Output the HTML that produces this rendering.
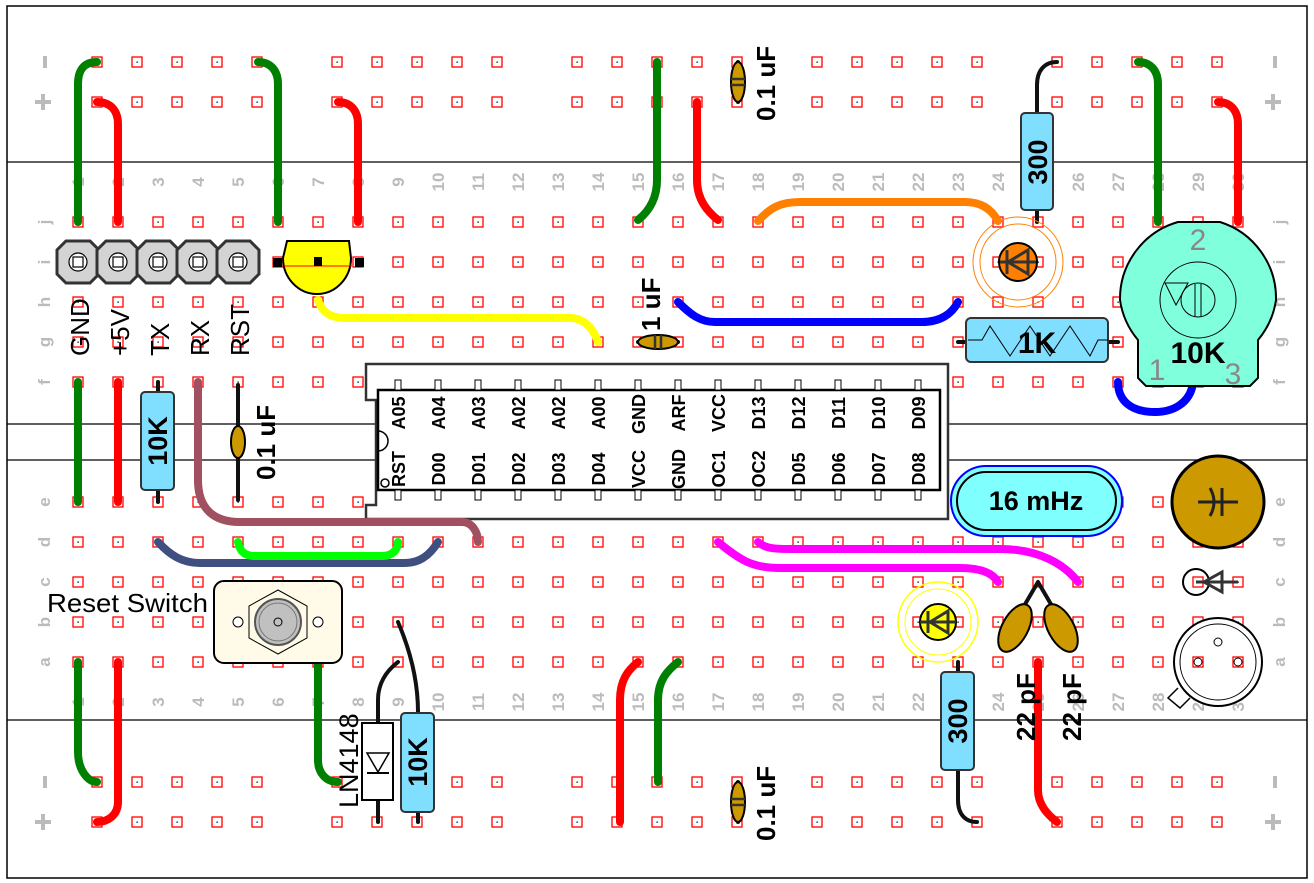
<!DOCTYPE html>
<html><head><meta charset="utf-8"><style>
html,body{margin:0;padding:0;background:#fff;}
svg{display:block;font-family:"Liberation Sans",sans-serif;}
.n{fill:#bbb;font-size:17px;font-weight:bold;}
.cl{font-weight:bold;font-size:18px;fill:#000;}
</style></head><body>
<svg width="1314" height="883" viewBox="0 0 1314 883">
<defs>
<pattern id="th" x="58" y="202" width="40" height="40" patternUnits="userSpaceOnUse">
<rect x="15" y="15" width="10" height="10" fill="#fff" stroke="#f00" stroke-width="1.3"/><rect x="19.5" y="19.5" width="1.3" height="1.3" fill="#000"/></pattern>
<pattern id="rh" x="77" y="42" width="240" height="40" patternUnits="userSpaceOnUse">
<g fill="#fff" stroke="#f00" stroke-width="1.3"><rect x="15" y="15" width="10" height="10"/><rect x="55" y="15" width="10" height="10"/><rect x="95" y="15" width="10" height="10"/><rect x="135" y="15" width="10" height="10"/><rect x="175" y="15" width="10" height="10"/></g>
<g fill="#000"><rect x="19.5" y="19.5" width="1.3" height="1.3"/><rect x="59.5" y="19.5" width="1.3" height="1.3"/><rect x="99.5" y="19.5" width="1.3" height="1.3"/><rect x="139.5" y="19.5" width="1.3" height="1.3"/><rect x="179.5" y="19.5" width="1.3" height="1.3"/></g></pattern>
<pattern id="rh2" x="77" y="762" width="240" height="40" patternUnits="userSpaceOnUse">
<g fill="#fff" stroke="#f00" stroke-width="1.3"><rect x="15" y="15" width="10" height="10"/><rect x="55" y="15" width="10" height="10"/><rect x="95" y="15" width="10" height="10"/><rect x="135" y="15" width="10" height="10"/><rect x="175" y="15" width="10" height="10"/></g>
<g fill="#000"><rect x="19.5" y="19.5" width="1.3" height="1.3"/><rect x="59.5" y="19.5" width="1.3" height="1.3"/><rect x="99.5" y="19.5" width="1.3" height="1.3"/><rect x="139.5" y="19.5" width="1.3" height="1.3"/><rect x="179.5" y="19.5" width="1.3" height="1.3"/></g></pattern>
</defs>
<rect x="7" y="6" width="1300" height="872" fill="#fff" stroke="#000" stroke-width="1.5"/>
<g stroke="#000" stroke-width="1.2"><line x1="7" y1="162" x2="1307" y2="162"/><line x1="7" y1="424" x2="1307" y2="424"/><line x1="7" y1="460" x2="1307" y2="460"/><line x1="7" y1="720" x2="1307" y2="720"/></g>
<rect x="58" y="202" width="1200" height="200" fill="url(#th)"/>
<rect x="58" y="482" width="1200" height="200" fill="url(#th)"/>
<rect x="77" y="42" width="1160" height="80" fill="url(#rh)"/>
<rect x="77" y="762" width="1160" height="80" fill="url(#rh2)"/>
<g fill="#bbb"><rect x="43" y="56" width="4" height="12"/><rect x="1273" y="56" width="4" height="12"/><rect x="43" y="776" width="4" height="12"/><rect x="1273" y="776" width="4" height="12"/>
<rect x="35" y="100" width="16" height="4"/><rect x="41" y="94" width="4" height="16"/><rect x="1265" y="100" width="16" height="4"/><rect x="1271" y="94" width="4" height="16"/>
<rect x="35" y="820" width="16" height="4"/><rect x="41" y="814" width="4" height="16"/><rect x="1265" y="820" width="16" height="4"/><rect x="1271" y="814" width="4" height="16"/></g>
<g class="n" text-anchor="middle">
<text transform="translate(50,222) rotate(-90)">j</text><text transform="translate(50,262) rotate(-90)">i</text><text transform="translate(50,302) rotate(-90)">h</text><text transform="translate(50,342) rotate(-90)">g</text><text transform="translate(50,382) rotate(-90)">f</text>
<text transform="translate(50,502) rotate(-90)">e</text><text transform="translate(50,542) rotate(-90)">d</text><text transform="translate(50,582) rotate(-90)">c</text><text transform="translate(50,622) rotate(-90)">b</text><text transform="translate(50,662) rotate(-90)">a</text>
<text transform="translate(1285,222) rotate(-90)">j</text><text transform="translate(1285,262) rotate(-90)">i</text><text transform="translate(1285,302) rotate(-90)">h</text><text transform="translate(1285,342) rotate(-90)">g</text><text transform="translate(1285,382) rotate(-90)">f</text>
<text transform="translate(1285,502) rotate(-90)">e</text><text transform="translate(1285,542) rotate(-90)">d</text><text transform="translate(1285,582) rotate(-90)">c</text><text transform="translate(1285,622) rotate(-90)">b</text><text transform="translate(1285,662) rotate(-90)">a</text>
</g>
<g class="n" text-anchor="middle">
<text transform="translate(84,182) rotate(-90)">1</text><text transform="translate(124,182) rotate(-90)">2</text><text transform="translate(164,182) rotate(-90)">3</text><text transform="translate(204,182) rotate(-90)">4</text><text transform="translate(244,182) rotate(-90)">5</text><text transform="translate(284,182) rotate(-90)">6</text><text transform="translate(324,182) rotate(-90)">7</text><text transform="translate(364,182) rotate(-90)">8</text><text transform="translate(404,182) rotate(-90)">9</text><text transform="translate(444,182) rotate(-90)">10</text><text transform="translate(484,182) rotate(-90)">11</text><text transform="translate(524,182) rotate(-90)">12</text><text transform="translate(564,182) rotate(-90)">13</text><text transform="translate(604,182) rotate(-90)">14</text><text transform="translate(644,182) rotate(-90)">15</text><text transform="translate(684,182) rotate(-90)">16</text><text transform="translate(724,182) rotate(-90)">17</text><text transform="translate(764,182) rotate(-90)">18</text><text transform="translate(804,182) rotate(-90)">19</text><text transform="translate(844,182) rotate(-90)">20</text><text transform="translate(884,182) rotate(-90)">21</text><text transform="translate(924,182) rotate(-90)">22</text><text transform="translate(964,182) rotate(-90)">23</text><text transform="translate(1004,182) rotate(-90)">24</text><text transform="translate(1044,182) rotate(-90)">25</text><text transform="translate(1084,182) rotate(-90)">26</text><text transform="translate(1124,182) rotate(-90)">27</text><text transform="translate(1164,182) rotate(-90)">28</text><text transform="translate(1204,182) rotate(-90)">29</text><text transform="translate(1244,182) rotate(-90)">30</text>
<text transform="translate(84,702) rotate(-90)">1</text><text transform="translate(124,702) rotate(-90)">2</text><text transform="translate(164,702) rotate(-90)">3</text><text transform="translate(204,702) rotate(-90)">4</text><text transform="translate(244,702) rotate(-90)">5</text><text transform="translate(284,702) rotate(-90)">6</text><text transform="translate(324,702) rotate(-90)">7</text><text transform="translate(364,702) rotate(-90)">8</text><text transform="translate(404,702) rotate(-90)">9</text><text transform="translate(444,702) rotate(-90)">10</text><text transform="translate(484,702) rotate(-90)">11</text><text transform="translate(524,702) rotate(-90)">12</text><text transform="translate(564,702) rotate(-90)">13</text><text transform="translate(604,702) rotate(-90)">14</text><text transform="translate(644,702) rotate(-90)">15</text><text transform="translate(684,702) rotate(-90)">16</text><text transform="translate(724,702) rotate(-90)">17</text><text transform="translate(764,702) rotate(-90)">18</text><text transform="translate(804,702) rotate(-90)">19</text><text transform="translate(844,702) rotate(-90)">20</text><text transform="translate(884,702) rotate(-90)">21</text><text transform="translate(924,702) rotate(-90)">22</text><text transform="translate(964,702) rotate(-90)">23</text><text transform="translate(1004,702) rotate(-90)">24</text><text transform="translate(1044,702) rotate(-90)">25</text><text transform="translate(1084,702) rotate(-90)">26</text><text transform="translate(1124,702) rotate(-90)">27</text><text transform="translate(1164,702) rotate(-90)">28</text><text transform="translate(1204,702) rotate(-90)">29</text><text transform="translate(1244,702) rotate(-90)">30</text>
</g>

<!-- CHIP -->
<path d="M366,364 H948 V519 H366 V505 H376 V400 H366 Z" fill="#fff" stroke="#333" stroke-width="2.5"/>
<rect x="378" y="390" width="562" height="100" fill="#fff" stroke="#000" stroke-width="2.5"/>
<path d="M378,431 A10,10 0 0 1 378,451" fill="none" stroke="#000" stroke-width="1.5"/>
<circle cx="385" cy="483" r="4" fill="none" stroke="#000" stroke-width="1.5"/>
<g fill="#fff" stroke="#000" stroke-width="1">
<rect x="395" y="380" width="6" height="10"/><rect x="435" y="380" width="6" height="10"/><rect x="475" y="380" width="6" height="10"/><rect x="515" y="380" width="6" height="10"/><rect x="555" y="380" width="6" height="10"/><rect x="595" y="380" width="6" height="10"/><rect x="635" y="380" width="6" height="10"/><rect x="675" y="380" width="6" height="10"/><rect x="715" y="380" width="6" height="10"/><rect x="755" y="380" width="6" height="10"/><rect x="795" y="380" width="6" height="10"/><rect x="835" y="380" width="6" height="10"/><rect x="875" y="380" width="6" height="10"/><rect x="915" y="380" width="6" height="10"/>
<rect x="395" y="490" width="6" height="10"/><rect x="435" y="490" width="6" height="10"/><rect x="475" y="490" width="6" height="10"/><rect x="515" y="490" width="6" height="10"/><rect x="555" y="490" width="6" height="10"/><rect x="595" y="490" width="6" height="10"/><rect x="635" y="490" width="6" height="10"/><rect x="675" y="490" width="6" height="10"/><rect x="715" y="490" width="6" height="10"/><rect x="755" y="490" width="6" height="10"/><rect x="795" y="490" width="6" height="10"/><rect x="835" y="490" width="6" height="10"/><rect x="875" y="490" width="6" height="10"/><rect x="915" y="490" width="6" height="10"/>
</g>
<g class="cl" text-anchor="middle">
<text transform="translate(405,413) rotate(-90)">A05</text><text transform="translate(445,413) rotate(-90)">A04</text><text transform="translate(485,413) rotate(-90)">A03</text><text transform="translate(525,413) rotate(-90)">A02</text><text transform="translate(565,413) rotate(-90)">A02</text><text transform="translate(605,413) rotate(-90)">A00</text><text transform="translate(645,414) rotate(-90)">GND</text><text transform="translate(685,413) rotate(-90)">ARF</text><text transform="translate(725,413) rotate(-90)">VCC</text><text transform="translate(765,413) rotate(-90)">D13</text><text transform="translate(805,413) rotate(-90)">D12</text><text transform="translate(845,413) rotate(-90)">D11</text><text transform="translate(885,413) rotate(-90)">D10</text><text transform="translate(925,413) rotate(-90)">D09</text>
<text transform="translate(405,469) rotate(-90)">RST</text><text transform="translate(445,469) rotate(-90)">D00</text><text transform="translate(485,469) rotate(-90)">D01</text><text transform="translate(525,469) rotate(-90)">D02</text><text transform="translate(565,469) rotate(-90)">D03</text><text transform="translate(605,469) rotate(-90)">D04</text><text transform="translate(645,469) rotate(-90)">VCC</text><text transform="translate(685,469) rotate(-90)">GND</text><text transform="translate(725,469) rotate(-90)">OC1</text><text transform="translate(765,469) rotate(-90)">OC2</text><text transform="translate(805,469) rotate(-90)">D05</text><text transform="translate(845,469) rotate(-90)">D06</text><text transform="translate(885,469) rotate(-90)">D07</text><text transform="translate(925,469) rotate(-90)">D08</text>
</g>

<!-- WIRES -->
<g fill="none" stroke-width="8" stroke-linecap="round">
<path d="M97,62 C84,62 78,70 78,84 V222" stroke="#008000"/>
<path d="M97,102 C110,102 118,110 118,124 V222" stroke="#f00"/>
<path d="M258,62 C270,62 278,70 278,84 V222" stroke="#008000"/>
<path d="M338,102 C350,102 358,110 358,124 V222" stroke="#f00"/>
<path d="M657,62 V180 C657,200 648,212 638,220" stroke="#008000"/>
<path d="M697,102 V180 C697,200 708,212 718,220" stroke="#f00"/>
<path d="M1138,62 C1150,62 1158,70 1158,84 V222" stroke="#008000"/>
<path d="M1218,102 C1230,102 1238,110 1238,124 V222" stroke="#f00"/>
<path d="M758,221 C770,208 780,202 800,202 H965 C982,202 992,210 998,221" stroke="#ff8000"/>
<path d="M318,300 C322,312 330,318 345,318 H570 C585,318 594,330 598,342" stroke="#ff0"/>
<path d="M678,302 C690,314 700,322 715,322 H922 C940,322 952,314 958,302" stroke="#00f"/>
<path d="M1118,382 C1118,400 1130,412 1155,412 C1175,412 1188,402 1192,388" stroke="#00f"/>
<path d="M78,382 V502" stroke="#008000"/>
<path d="M118,382 V502" stroke="#f00"/>
<path d="M198,382 V480 C198,510 215,522 240,522 H462 C472,522 478,532 478,542" stroke="#a05060"/>
<path d="M158,542 C170,555 182,563 200,563 H405 C420,563 430,555 438,542" stroke="#3f4f80"/>
<path d="M238,542 C240,552 245,556 255,556 H382 C392,556 398,550 398,542" stroke="#0f0"/>
<path d="M78,662 V752 C78,770 88,782 97,782" stroke="#008000"/>
<path d="M118,662 V802 C118,815 108,822 97,822" stroke="#f00"/>
<path d="M318,663 V760 C318,773 326,782 338,782" stroke="#008000"/>
<path d="M638,662 C628,670 620,680 620,700 V822" stroke="#f00"/>
<path d="M678,662 C668,670 658,680 658,700 V782" stroke="#008000"/>
<path d="M1038,662 V790 C1038,805 1048,815 1057,822" stroke="#f00"/>
<path d="M718,542 C740,560 752,568 780,568 H960 C985,568 994,575 998,582" stroke="#f0f"/>
<path d="M758,542 C765,548 772,549 790,549 H1000 C1040,549 1065,565 1078,582" stroke="#f0f"/>
</g>
<g fill="none" stroke="#111" stroke-width="4" stroke-linecap="round">
<path d="M1057,62 C1045,62 1037,70 1037,85 V222"/>
<line x1="158" y1="382" x2="158" y2="502"/>
<line x1="238" y1="385" x2="238" y2="500"/>
<path d="M398,622 C410,650 418,680 418,712 V822"/>
<path d="M398,662 C385,672 378,685 378,700 V822"/>
<path d="M958,662 V800 C958,815 966,822 977,822"/>
<line x1="958" y1="342" x2="1118" y2="342"/>
<path d="M1038,582 L1010,630 M1038,582 L1066,630"/>
<line x1="738" y1="62" x2="738" y2="102"/><line x1="738" y1="782" x2="738" y2="822"/><line x1="638" y1="342" x2="678" y2="342"/>
</g>

<!-- header pins -->
<g stroke="#333" stroke-width="3" fill="#d3d3d3">
<polygon points="66,241 90,241 99,250 99,274 90,283 66,283 57,274 57,250"/>
<polygon points="106,241 130,241 139,250 139,274 130,283 106,283 97,274 97,250"/>
<polygon points="146,241 170,241 179,250 179,274 170,283 146,283 137,274 137,250"/>
<polygon points="186,241 210,241 219,250 219,274 210,283 186,283 177,274 177,250"/>
<polygon points="226,241 250,241 259,250 259,274 250,283 226,283 217,274 217,250"/>
</g>
<g fill="#fff" stroke="#000" stroke-width="1.2">
<circle cx="78" cy="262" r="9"/><circle cx="118" cy="262" r="9"/><circle cx="158" cy="262" r="9"/><circle cx="198" cy="262" r="9"/><circle cx="238" cy="262" r="9"/>
<rect x="73" y="257" width="10" height="10"/><rect x="113" y="257" width="10" height="10"/><rect x="153" y="257" width="10" height="10"/><rect x="193" y="257" width="10" height="10"/><rect x="233" y="257" width="10" height="10"/>
</g>
<g font-size="26" text-anchor="start">
<text transform="translate(89,356) rotate(-90)">GND</text><text transform="translate(129,356) rotate(-90)">+5V</text><text transform="translate(169,356) rotate(-90)">TX</text><text transform="translate(209,356) rotate(-90)">RX</text><text transform="translate(249,356) rotate(-90)">RST</text>
</g>

<!-- buzzer -->
<path d="M287,241 H349 L351,258 A34,36 0 1 1 283,258 Z" fill="#ff0" stroke="#000" stroke-width="2"/>
<line x1="284" y1="266" x2="352" y2="266" stroke="#f00" stroke-width="1"/>
<g fill="#000"><rect x="273" y="258" width="9" height="9"/><rect x="314" y="257" width="8" height="9"/><rect x="355" y="258" width="9" height="9"/></g>

<!-- resistors -->
<g fill="#80dfff" stroke="#333" stroke-width="2">
<rect x="1021" y="113" width="32" height="97" rx="4"/>
<rect x="141" y="392" width="33" height="98" rx="4"/>
<rect x="401" y="713" width="33" height="99" rx="4"/>
<rect x="941" y="672" width="33" height="98" rx="4"/>
<rect x="966" y="318" width="142" height="44" rx="5"/>
</g>
<polyline points="968,340 982,340 990,326 1010,356 1030,326 1050,356 1070,326 1090,356 1098,340 1108,340" fill="none" stroke="#000" stroke-width="1"/>
<g font-weight="bold" font-size="27" text-anchor="middle">
<text transform="translate(1047,162) rotate(-90)">300</text>
<text transform="translate(167,441) rotate(-90)">10K</text>
<text transform="translate(427,762) rotate(-90)">10K</text>
<text transform="translate(967,721) rotate(-90)">300</text>
<text x="1037" y="353" font-size="30">1K</text>
</g>

<!-- small caps -->
<g fill="#cc9900" stroke="#000" stroke-width="2">
<ellipse cx="738" cy="82" rx="7" ry="20"/>
<ellipse cx="738" cy="802" rx="7" ry="20"/>
<ellipse cx="658" cy="342" rx="20" ry="7"/>
<ellipse cx="238" cy="442" rx="7" ry="16"/>
<ellipse cx="1015" cy="628" rx="13" ry="26" transform="rotate(28 1015 628)"/>
<ellipse cx="1061" cy="628" rx="13" ry="26" transform="rotate(-28 1061 628)"/>
</g>
<g stroke="#333" stroke-width="2.5"><line x1="731" y1="79" x2="745" y2="79"/><line x1="731" y1="85" x2="745" y2="85"/><line x1="731" y1="799" x2="745" y2="799"/><line x1="731" y1="805" x2="745" y2="805"/><line x1="655" y1="335" x2="655" y2="349"/><line x1="661" y1="335" x2="661" y2="349"/></g>
<g font-weight="bold" font-size="26" text-anchor="start">
<text transform="translate(775,121) rotate(-90)">0.1 uF</text>
<text transform="translate(775,841) rotate(-90)">0.1 uF</text>
<text transform="translate(660,331) rotate(-90)">1 uF</text>
<text transform="translate(275,480) rotate(-90)">0.1 uF</text>
<text transform="translate(1035,741) rotate(-90)">22 pF</text>
<text transform="translate(1081,741) rotate(-90)">22 pF</text>
<text transform="translate(358,808) rotate(-90)" font-weight="normal" font-size="27">LN4148</text>
</g>

<!-- diode -->
<rect x="362" y="723" width="31" height="77" fill="#fff" stroke="#000" stroke-width="2"/>
<polygon points="367,753 389,753 378,772" fill="#fff" stroke="#000" stroke-width="1.5"/>
<line x1="367" y1="773" x2="389" y2="773" stroke="#000" stroke-width="2"/>

<!-- reset switch -->
<rect x="214" y="581" width="128" height="82" rx="10" fill="#fffbe8" stroke="#000" stroke-width="2"/>
<polygon points="278,590 307,606 307,638 278,654 249,638 249,606" fill="#fffbe8" stroke="#000" stroke-width="1"/>
<circle cx="278" cy="622" r="23" fill="#c0c0c0" stroke="#555" stroke-width="2"/>
<circle cx="278" cy="622" r="19" fill="none" stroke="#777"/>
<circle cx="278" cy="622" r="4" fill="none" stroke="#000"/>
<circle cx="238" cy="622" r="5" fill="#fff" stroke="#000"/><circle cx="318" cy="622" r="5" fill="#fff" stroke="#000"/>
<text x="47" y="612" font-size="26" textLength="161" lengthAdjust="spacingAndGlyphs">Reset Switch</text>

<!-- orange photo LED -->
<circle cx="1018" cy="262" r="45" fill="none" stroke="#ff8000" stroke-width="1"/>
<circle cx="1018" cy="262" r="38" fill="none" stroke="#ff8000" stroke-width="1"/>
<circle cx="1018" cy="262" r="19" fill="#ff8000" stroke="#000" stroke-width="2"/>
<g stroke="#333" stroke-width="3" fill="none"><line x1="1000" y1="262" x2="1036" y2="262"/><polygon points="1028,250 1028,274 1008,262"/><line x1="1007" y1="250" x2="1007" y2="274"/></g>
<!-- yellow LED -->
<circle cx="938" cy="622" r="40" fill="none" stroke="#ff0" stroke-width="1.5"/>
<circle cx="938" cy="622" r="33" fill="none" stroke="#ff0" stroke-width="1"/>
<circle cx="938" cy="622" r="18" fill="#ff0" stroke="#000" stroke-width="2"/>
<g stroke="#333" stroke-width="3" fill="none"><line x1="920" y1="622" x2="956" y2="622"/><polygon points="948,611 948,633 930,622"/><line x1="928" y1="611" x2="928" y2="633"/></g>

<!-- pot -->
<path d="M1120,300 A80,80 0 0 1 1178,222 L1220,222 A80,80 0 0 1 1276,300 A80,80 0 0 1 1258,340 V378 L1250,386 H1146 L1138,378 V340 A80,80 0 0 1 1120,300 Z" fill="#80ffdd" stroke="#000" stroke-width="2"/>
<circle cx="1198" cy="300" r="38" fill="none" stroke="#000" stroke-width="1"/>
<circle cx="1198" cy="300" r="17" fill="none" stroke="#000" stroke-width="1"/>
<line x1="1195" y1="284" x2="1195" y2="316" stroke="#000"/><line x1="1201" y1="284" x2="1201" y2="316" stroke="#000"/>
<polygon points="1165,283 1188,283 1176,305" fill="none" stroke="#000"/>
<g font-size="30" fill="#888" text-anchor="middle"><text x="1198" y="250">2</text><text x="1157" y="380">1</text><text x="1233" y="384">3</text></g>
<text x="1198" y="363" font-size="30" font-weight="bold" text-anchor="middle">10K</text>

<!-- crystal -->
<rect x="951" y="466" width="171" height="70" rx="35" fill="#80ffff" stroke="#00f" stroke-width="2"/>
<rect x="957" y="472" width="159" height="58" rx="29" fill="none" stroke="#000" stroke-width="2"/>
<text x="1036" y="510" font-size="27" font-weight="bold" text-anchor="middle">16 mHz</text>

<!-- electrolytic -->
<circle cx="1218" cy="502" r="46" fill="#cc9900" stroke="#000" stroke-width="3"/>
<g stroke="#222" stroke-width="3"><line x1="1198" y1="502" x2="1238" y2="502"/><line x1="1222" y1="488" x2="1222" y2="516"/></g>
<path d="M1210,488 Q1218,502 1210,516" fill="none" stroke="#222" stroke-width="3"/>
<circle cx="1196" cy="582" r="13" fill="none" stroke="#000" stroke-width="2"/>
<g stroke="#333" stroke-width="3" fill="none"><line x1="1196" y1="582" x2="1238" y2="582"/><polygon points="1222,572 1222,592 1204,582"/></g>
<path d="M1178,688 L1168,698 L1180,708 L1190,698" fill="#fff" stroke="#000" stroke-width="1.5"/>
<circle cx="1218" cy="662" r="44" fill="#fff" stroke="#000" stroke-width="2"/>
<circle cx="1218" cy="662" r="38" fill="none" stroke="#000" stroke-width="1"/>
<circle cx="1218" cy="642" r="4" fill="#fff" stroke="#000"/>
<g fill="#fff" stroke="#f00" stroke-width="1.3"><rect x="1193" y="657" width="10" height="10"/><rect x="1233" y="657" width="10" height="10"/></g>
<circle cx="1198" cy="662" r="4" fill="none" stroke="#000"/><circle cx="1238" cy="662" r="4" fill="none" stroke="#000"/>
</svg>
</body></html>
